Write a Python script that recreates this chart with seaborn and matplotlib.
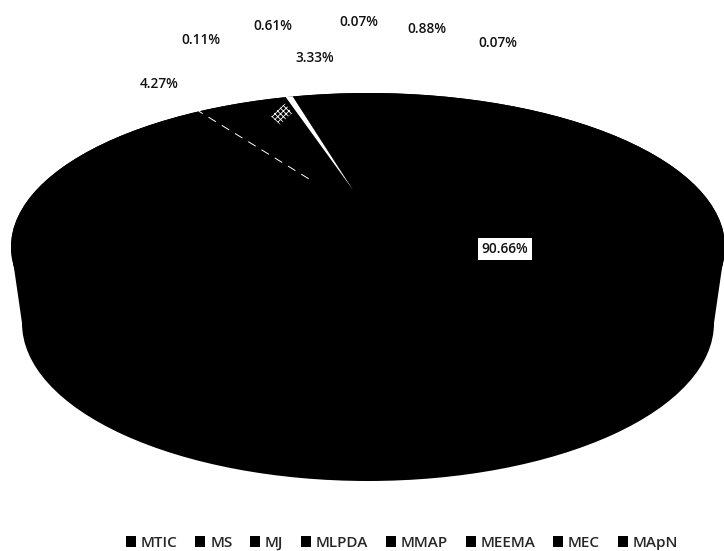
import numpy as np
import matplotlib.pyplot as plt
from matplotlib.patches import Ellipse, Patch, Polygon, Wedge
import seaborn as sns

sns.set_theme(style='white')
plt.rcParams['font.family'] = ['Open Sans', 'DejaVu Sans']
plt.rcParams['hatch.linewidth'] = 0.6

# Share of each group, clockwise from the big slice
groups = ['MTIC', 'MS', 'MJ', 'MLPDA', 'MMAP', 'MEEMA', 'MEC', 'MApN']
shares = [90.66, 4.27, 0.11, 0.61, 3.33, 0.07, 0.88, 0.07]
slice_colors = ['black', 'black', 'black', 'black', 'black', 'black', 'white', 'black']
key_colors = ['black'] * 8

# where each percent label sits, in picture pixels
label_xy = [(505, 249), (159, 84), (201, 40), (273, 26), (315, 58),
            (359, 22), (427, 29), (498, 43)]

H = 551
fig = plt.figure(figsize=(7.24, 5.51), dpi=100)
ax = fig.add_axes([0, 0, 1, 1])

# top face is what the slices get cut to, the rest is the side of the 3d pie
top_face = Ellipse((368, H - 247), 714, 308, fc='black', ec='none')
ax.add_patch(top_face)
ax.add_patch(Ellipse((368, H - 323), 692, 316, fc='black', ec='none'))
ax.add_patch(Polygon([(11, H - 247), (725, H - 247), (714, H - 323), (22, H - 323)],
                     fc='black', ec='none'))

apex = (353, H - 190)
wedges, _ = ax.pie(shares, colors=slice_colors, startangle=122.5, counterclock=False,
                   center=apex, radius=400, wedgeprops={'linewidth': 0})
for w in wedges:
    w.set_clip_on(True)
    w.set_clip_path(top_face)

# speckled rim of the MMAP slice
mmap = wedges[groups.index('MMAP')]
rim = Wedge(apex, 110, mmap.theta1 + 2, mmap.theta2, width=12, fc='black', ec='white',
            lw=0, hatch='xxxxxx')
ax.add_patch(rim)
rim.set_clip_path(top_face)

ax.set_aspect('auto')
ax.set_xlim(0, 724)
ax.set_ylim(0, H)
ax.axis('off')

# thin broken line on the MTIC / MS border, perspective tilts it a bit off the slice edge
edge = np.deg2rad(wedges[1].theta2 - 7.7)
rr = np.array([52, 181])
ax.plot(apex[0] + rr * np.cos(edge), apex[1] - 16 + rr * np.sin(edge),
        color='white', lw=0.7, ls=(0, (9, 7)))

for i, (val, (px, py)) in enumerate(zip(shares, label_xy)):
    box = {'fc': 'white', 'ec': 'none', 'pad': 2.5} if i == 0 else None
    ax.text(px, H - py, f'{val:.2f}%', fontsize=9.8, fontweight='semibold', color='#111111',
            ha='center', va='center', bbox=box)

handles = [Patch(fc=c, ec='none') for c in key_colors]
ax.legend(handles, groups, ncol=8, loc='center', bbox_to_anchor=(402 / 724, 1 - 543 / H),
          frameon=False, prop={'size': 11, 'weight': 'semibold'}, handlelength=0.65,
          handleheight=0.65, handletextpad=0.33, columnspacing=1.15, borderpad=0)

fig.savefig('out.png', dpi=100)
